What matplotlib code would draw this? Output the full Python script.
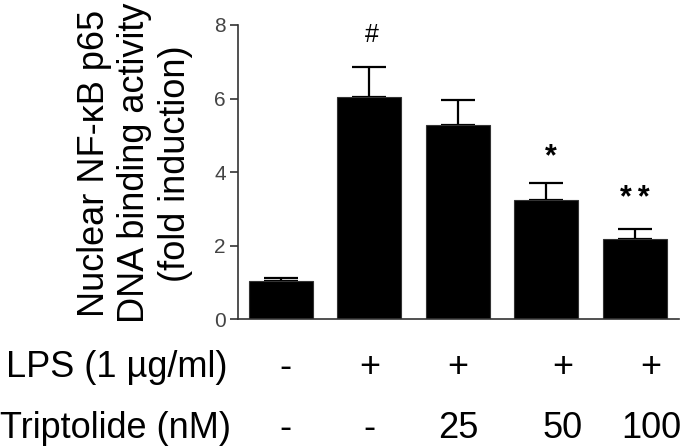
import numpy as np
import matplotlib.pyplot as plt
import matplotlib.transforms as mtrans

plt.rcParams['font.family'] = ['Liberation Sans', 'DejaVu Sans']

# datos
fold = [1.04, 6.05, 5.29, 3.24, 2.17]
sem = [0.09, 0.82, 0.68, 0.47, 0.28]
marks = ['', '#', '', '*', '**']
lps = ['-', '+', '+', '+', '+']
tript = ['-', '-', '25', '50', '100']

x = np.arange(len(fold))

fig = plt.figure(figsize=(6.85, 4.46), dpi=100)
ax = fig.add_axes([0.3474, 0.2841, 0.6438, 0.6599])

ax.bar(x, fold, width=0.723, color='black', edgecolor='#333333', linewidth=0.8, zorder=2)
ax.errorbar(x, fold, yerr=[np.zeros(len(sem)), sem], fmt='none', ecolor='black',
            elinewidth=1.6, capsize=12, capthick=1.6, zorder=1)

# marcas de significancia
mark_dy = [0, 0.66, 0, 0.47, 0.61]
mark_dx = [0, 0.03, 0, 0.05, 0]
for i in range(len(fold)):
    if marks[i] == '#':
        ax.text(x[i] + mark_dx[i], fold[i] + sem[i] + mark_dy[i], marks[i],
                ha='center', va='baseline', fontsize=18)
    elif marks[i]:
        ax.text(x[i] + mark_dx[i], fold[i] + sem[i] + mark_dy[i], '\u2009'.join(marks[i]),
                ha='center', va='baseline', fontsize=22, fontweight='bold')

ax.set_xlim(-0.486, 4.497)
ax.set_ylim(0, 8)
ax.set_yticks([0, 2, 4, 6, 8])
ax.set_xticks([])
for s in ['top', 'right']:
    ax.spines[s].set_visible(False)
for s in ['left', 'bottom']:
    ax.spines[s].set_color('#333333')
    ax.spines[s].set_linewidth(1.2)
ax.tick_params(axis='y', length=5.8, width=1.2, color='#333333', labelsize=15,
               labelcolor='#444444', pad=3)

fig.text(0.197, 0.634, 'Nuclear NF-κB p65\nDNA binding activity\n(fold induction)',
         rotation=90, ha='center', va='center', fontsize=26, linespacing=1.2,
         multialignment='center')

# filas de tratamiento debajo del eje
row_dx = [0.045, 0, 0, 0.18, 0.18]
tr = mtrans.blended_transform_factory(ax.transData, fig.transFigure)
for i in range(len(x)):
    fig.text(x[i] + row_dx[i], 0.177, lps[i], transform=tr, ha='center', va='center', fontsize=26)
    fig.text(x[i] + row_dx[i], 0.040, tript[i], transform=tr, ha='center', va='center', fontsize=26)
fig.text(0.009, 0.177, 'LPS (1 µg/ml)', ha='left', va='center', fontsize=26)
fig.text(0.0, 0.040, 'Triptolide (nM)', ha='left', va='center', fontsize=26)

fig.savefig('out.png', dpi=100)
